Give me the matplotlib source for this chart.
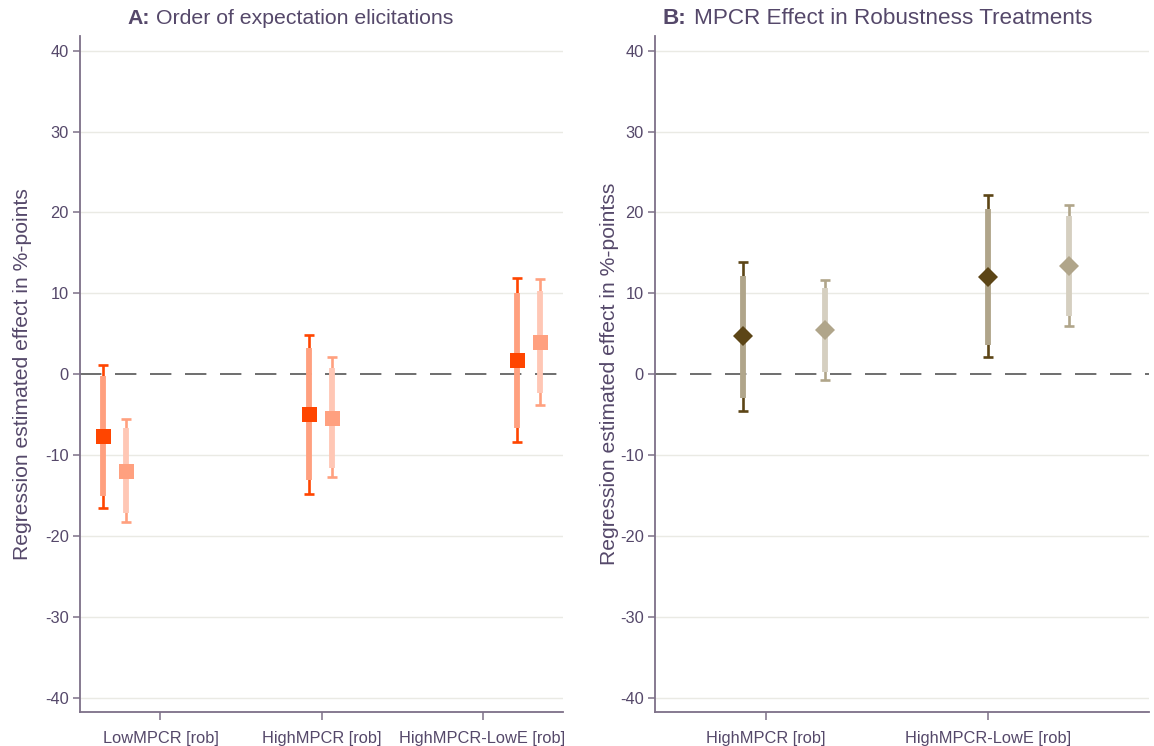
import matplotlib
matplotlib.use('Agg')
import matplotlib.pyplot as plt

plt.rcParams['font.family'] = ['Liberation Sans', 'DejaVu Sans']

# ---- Panel A data ----
a_labels = ['LowMPCR [rob]', 'HighMPCR [rob]', 'HighMPCR-LowE [rob]']
a_ticks = [1, 2, 3]
a1_x = [0.643, 1.922, 3.214]
a1_est = [-7.65, -4.9, 1.77]
a1_lo95 = [-16.5, -14.8, -8.4]
a1_hi95 = [1.2, 4.9, 11.95]
a1_lo90 = [-15.06, -13.05, -6.6]
a1_hi90 = [-0.25, 3.2, 10.1]

a2_x = [0.786, 2.068, 3.357]
a2_est = [-11.9, -5.35, 3.95]
a2_lo95 = [-18.2, -12.75, -3.8]
a2_hi95 = [-5.55, 2.1, 11.75]
a2_lo90 = [-17.16, -11.6, -2.35]
a2_hi90 = [-6.67, 0.8, 10.25]

# ---- Panel B data ----
b_labels = ['HighMPCR [rob]', 'HighMPCR-LowE [rob]']
b_ticks = [1, 2]
b1_x = [0.898, 2.0]
b1_est = [4.7, 12.06]
b1_lo95 = [-4.48, 2.1]
b1_hi95 = [13.87, 22.1]
b1_lo90 = [-2.9, 3.67]
b1_hi90 = [12.2, 20.4]

b2_x = [1.265, 2.365]
b2_est = [5.5, 13.4]
b2_lo95 = [-0.74, 5.96]
b2_hi95 = [11.7, 20.86]
b2_lo90 = [0.3, 7.16]
b2_hi90 = [10.6, 19.6]

yticks = [-40, -30, -20, -10, 0, 10, 20, 30, 40]

TEXT = '#55486A'
SPINE = '#7D7088'
GRID = '#EAEAE4'


def draw_series(ax, x, est, lo95, hi95, lo90, hi90, cap_col, bar_col, mk_col, marker, ms):
    for xi, e, l95, h95, l90, h90 in zip(x, est, lo95, hi95, lo90, hi90):
        ax.errorbar([xi], [e], yerr=[[e - l95], [h95 - e]], fmt='none',
                    ecolor=cap_col, elinewidth=1.9, capsize=3.8, capthick=1.9, zorder=3)
        ax.plot([xi, xi], [l90, h90], color=bar_col, lw=4.2,
                solid_capstyle='butt', zorder=4)
    ax.plot(x, est, linestyle='none', marker=marker, ms=ms, color=mk_col,
            markeredgewidth=0, zorder=5)


def style_axis(ax, ticks, labels, xlim):
    ax.set_xlim(*xlim)
    ax.set_ylim(-41.7, 41.8)
    ax.set_yticks(yticks)
    ax.set_yticklabels([str(t) for t in yticks])
    ax.set_xticks(ticks)
    ax.set_xticklabels(labels)
    for t in yticks:
        if t != 0:
            ax.axhline(t, color=GRID, lw=1, zorder=1)
    ax.axhline(0, color='#6E6E6E', lw=1.4, dashes=(11, 7), zorder=2)
    for s in ['top', 'right']:
        ax.spines[s].set_visible(False)
    for s in ['left', 'bottom']:
        ax.spines[s].set_color(SPINE)
        ax.spines[s].set_linewidth(1.3)
    ax.tick_params(axis='y', colors=SPINE, labelcolor=TEXT, labelsize=11.8,
                   length=5, width=1.1, pad=3)
    ax.tick_params(axis='x', colors=SPINE, labelcolor=TEXT, labelsize=11.8,
                   length=6, width=1.1, pad=8)


fig = plt.figure(figsize=(11.54, 7.46), dpi=100)
axA = fig.add_axes([0.0693, 0.046, 0.4186, 0.9057])
axB = fig.add_axes([0.5676, 0.046, 0.4281, 0.9057])

style_axis(axA, a_ticks, a_labels, (0.5, 3.5))
draw_series(axA, a1_x, a1_est, a1_lo95, a1_hi95, a1_lo90, a1_hi90,
            '#FF4500', '#FFA07F', '#FF4500', 's', 10.8)
draw_series(axA, a2_x, a2_est, a2_lo95, a2_hi95, a2_lo90, a2_hi90,
            '#FFA07F', '#FFC7B5', '#FFA07F', 's', 10.8)
axA.set_ylabel('Regression estimated effect in %-points', fontsize=15.2,
               color=TEXT, labelpad=9)

style_axis(axB, b_ticks, b_labels, (0.5, 2.728))
draw_series(axB, b1_x, b1_est, b1_lo95, b1_hi95, b1_lo90, b1_hi90,
            '#5C4516', '#B0A58A', '#5C4516', 'D', 10.4)
draw_series(axB, b2_x, b2_est, b2_lo95, b2_hi95, b2_lo90, b2_hi90,
            '#B0A58A', '#D5CFC0', '#B0A58A', 'D', 10.4)
axB.set_ylabel('Regression estimated effect in %-pointss', fontsize=15.2,
               color=TEXT, labelpad=1)

# titles: bold panel letter followed by regular text
W, H = 1154, 746
title_y = 1 - 18 / H
fig.text(127 / W, title_y, 'A:', ha='left', va='center', fontsize=15.3,
         fontweight='bold', color=TEXT)
fig.text(156 / W, title_y, 'Order of expectation elicitations', ha='left',
         va='center', fontsize=15.3, color=TEXT)
fig.text(663 / W, title_y, 'B:', ha='left', va='center', fontsize=16.2,
         fontweight='bold', color=TEXT)
fig.text(694 / W, title_y, 'MPCR Effect in Robustness Treatments', ha='left',
         va='center', fontsize=16.2, color=TEXT)

fig.savefig('out.png', dpi=100, facecolor='white')
